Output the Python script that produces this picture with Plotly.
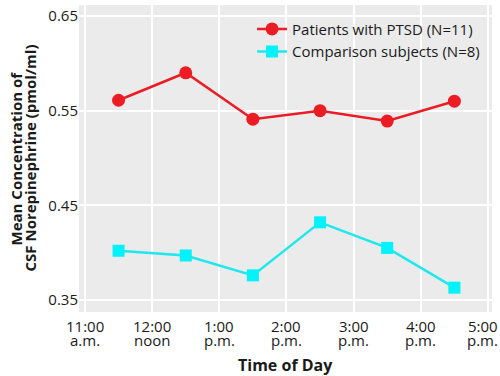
import plotly.graph_objects as go

hours = [11.5, 12.5, 13.5, 14.5, 15.5, 16.5]
ptsd = [0.561, 0.590, 0.541, 0.550, 0.539, 0.560]
comparison = [0.402, 0.397, 0.376, 0.432, 0.405, 0.363]
tick_vals = [11, 12, 13, 14, 15, 16, 17]
tick_main = ["11:00", "12:00", "1:00", "2:00", "3:00", "4:00", "5:00"]
tick_sub = ["a.m.", "noon", "p.m.", "p.m.", "p.m.", "p.m.", "p.m."]
y_ticks = [0.35, 0.45, 0.55, 0.65]
y_tick_text = ["0.35", "0.45", "0.55", "0.65"]
y_title_lines = ["Mean Concentration of", "CSF Norepinephrine (pmol/ml)"]
x_title = "Time of Day"

font = "Open Sans, Noto Sans, sans-serif"
red = "#ec1c24"
cyan = "#1ee8ee"
ink = "#1a1a1a"

fig = go.Figure()
fig.add_trace(go.Scatter(x=hours, y=ptsd, mode="lines+markers",
                         name="Patients with PTSD (N=11)",
                         line=dict(color=red, width=2.5),
                         marker=dict(symbol="circle", size=13, color=red)))
fig.add_trace(go.Scatter(x=hours, y=comparison, mode="lines+markers",
                         name="Comparison subjects (N=8)",
                         line=dict(color=cyan, width=2.5),
                         marker=dict(symbol="square", size=12, color="#00f2fa")))

annotations = []
last = len(tick_vals) - 1
for i, (tv, main, sub) in enumerate(zip(tick_vals, tick_main, tick_sub)):
    dx = -5 if i == last else 0
    annotations.append(dict(x=tv, xref="x", y=0, yref="paper", text=main,
                            showarrow=False, yanchor="middle", xanchor="center",
                            yshift=-14, xshift=dx, font=dict(size=15, color=ink)))
    annotations.append(dict(x=tv, xref="x", y=0, yref="paper", text=sub,
                            showarrow=False, yanchor="middle", xanchor="center",
                            yshift=-27.5, xshift=dx, font=dict(size=15, color=ink)))
annotations.append(dict(x=0.5, xref="paper", y=0, yref="paper", text="<b>" + x_title + "</b>",
                        showarrow=False, yanchor="middle", xanchor="center", yshift=-53,
                        font=dict(size=16, color=ink)))
for shift, line in zip([-64, -50], y_title_lines):
    annotations.append(dict(x=0, xref="paper", y=0.5, yref="paper", text="<b>" + line + "</b>",
                            showarrow=False, textangle=-90, xanchor="center", yanchor="middle",
                            xshift=shift, font=dict(size=15, color=ink)))

fig.update_layout(
    width=500, height=376,
    margin=dict(l=79, r=8, t=5, b=64),
    paper_bgcolor="white", plot_bgcolor="#ebebeb",
    font=dict(family=font, size=15, color=ink),
    legend=dict(x=0.419, y=0.975, xanchor="left", yanchor="top",
                bgcolor="rgba(0,0,0,0)", font=dict(size=15), tracegroupgap=0),
    showlegend=True,
    annotations=annotations,
)
fig.update_xaxes(range=[10.911, 17.06], tickvals=tick_vals, showticklabels=False,
                 showgrid=True, gridcolor="white", gridwidth=2, zeroline=False,
                 ticks="", automargin=False)
fig.update_yaxes(range=[0.3373, 0.6616], tickvals=y_ticks, ticktext=y_tick_text,
                 showgrid=True, gridcolor="white", gridwidth=2, zeroline=False,
                 ticks="", tickfont=dict(size=15), automargin=False)

fig.write_html("out.html", config={"displayModeBar": False},
               post_script="document.body.style.margin='0';")
